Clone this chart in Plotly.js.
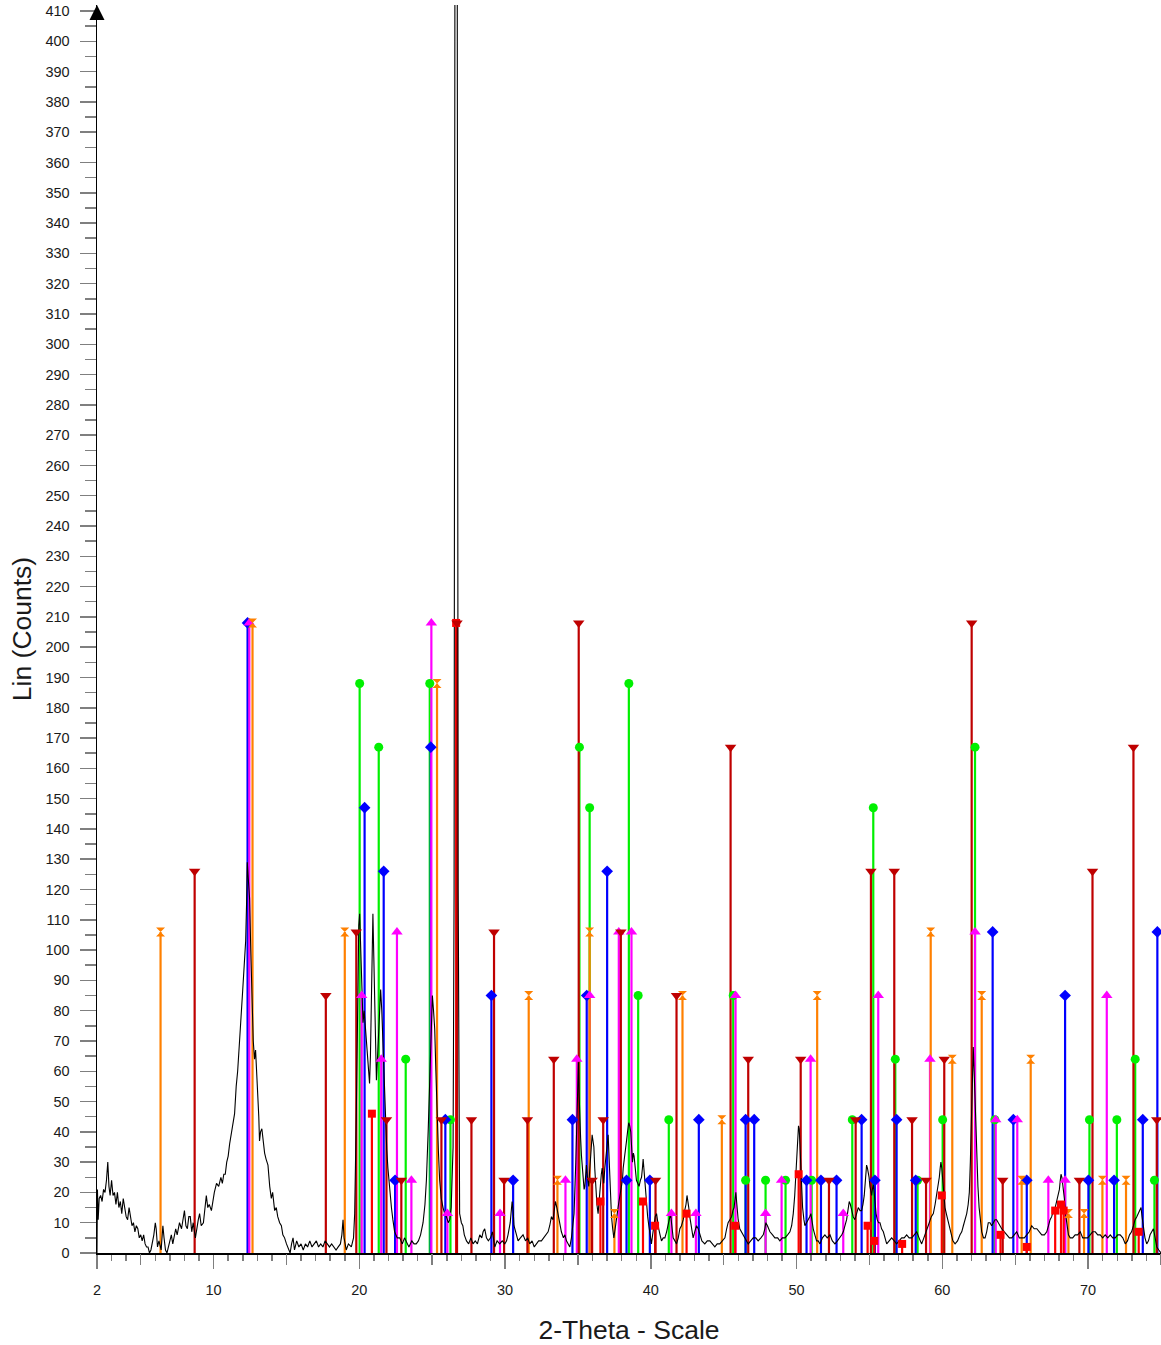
<!DOCTYPE html>
<html>
<head>
<meta charset="utf-8">
<script src="https://cdn.plot.ly/plotly-3.0.1.min.js"></script>
<style>html,body{margin:0;padding:0;background:#fff;}#chart{width:1161px;height:1345px;}</style>
</head>
<body>
<div id="chart"></div>
<script>
// ---------- measured diffraction pattern (2-theta, counts) ----------
const patternX = [2.00,2.03,2.08,2.15,2.25,2.35,2.45,2.55,2.65,2.74,2.82,2.90,3.00,3.10,3.20,3.30,3.40,3.50,3.60,3.70,3.80,3.90,4.00,4.10,4.20,4.30,4.40,4.50,4.60,4.70,4.80,4.90,5.00,5.10,5.20,5.30,5.40,5.50,5.60,5.70,5.80,5.90,6.00,6.06,6.15,6.25,6.40,6.52,6.60,6.70,6.80,6.90,7.00,7.10,7.20,7.30,7.40,7.50,7.66,7.80,7.90,8.00,8.10,8.20,8.30,8.40,8.50,8.60,8.75,8.85,8.95,9.04,9.15,9.30,9.40,9.50,9.60,9.70,9.85,9.95,10.05,10.20,10.35,10.50,10.60,10.70,10.80,10.90,11.00,11.10,11.20,11.30,11.44,11.55,11.65,11.78,11.90,12.00,12.10,12.20,12.26,12.31,12.36,12.42,12.47,12.55,12.65,12.72,12.81,12.88,12.95,13.04,13.10,13.15,13.22,13.31,13.40,13.50,13.60,13.73,13.85,13.96,14.05,14.19,14.30,14.40,14.53,14.65,14.75,14.87,15.00,15.10,15.25,15.35,15.45,15.55,15.70,15.85,16.00,16.15,16.30,16.45,16.60,16.75,16.90,17.05,17.20,17.35,17.50,17.65,17.80,17.95,18.10,18.25,18.40,18.55,18.70,18.80,18.88,18.95,19.10,19.25,19.45,19.60,19.68,19.79,19.90,19.96,20.02,20.08,20.14,20.25,20.33,20.41,20.50,20.59,20.70,20.76,20.82,20.88,20.93,20.99,21.05,21.12,21.17,21.25,21.33,21.40,21.46,21.54,21.62,21.70,21.80,21.88,21.96,22.08,22.20,22.30,22.42,22.60,22.77,22.95,23.10,23.20,23.40,23.60,23.75,23.90,24.05,24.20,24.37,24.50,24.60,24.72,24.83,24.92,25.01,25.09,25.17,25.25,25.33,25.42,25.51,25.62,25.74,25.85,25.97,26.10,26.20,26.30,26.43,26.50,26.57,26.62,26.66,26.72,26.78,26.88,27.00,27.10,27.20,27.35,27.50,27.65,27.80,27.95,28.10,28.26,28.40,28.49,28.60,28.72,28.85,29.00,29.13,29.29,29.45,29.63,29.80,29.98,30.10,30.20,30.35,30.48,30.55,30.61,30.75,30.89,31.05,31.23,31.40,31.55,31.69,31.85,32.00,32.15,32.30,32.49,32.65,32.84,32.95,33.06,33.18,33.29,33.37,33.45,33.55,33.63,33.75,33.86,34.00,34.10,34.21,34.33,34.44,34.55,34.62,34.73,34.85,34.96,35.03,35.08,35.12,35.18,35.24,35.30,35.35,35.42,35.47,35.52,35.58,35.65,35.74,35.80,35.86,35.92,35.97,36.03,36.09,36.15,36.22,36.30,36.38,36.46,36.54,36.60,36.66,36.72,36.77,36.84,36.91,36.98,37.07,37.12,37.18,37.24,37.30,37.38,37.46,37.52,37.59,37.67,37.75,37.81,37.87,37.96,38.05,38.10,38.16,38.25,38.33,38.40,38.48,38.55,38.62,38.68,38.74,38.80,38.85,38.93,39.01,39.10,39.19,39.28,39.36,39.42,39.47,39.52,39.58,39.64,39.70,39.78,39.86,39.95,40.04,40.12,40.20,40.30,40.39,40.46,40.54,40.63,40.73,40.85,40.96,41.08,41.18,41.27,41.35,41.44,41.53,41.65,41.76,41.88,41.99,42.10,42.22,42.32,42.41,42.48,42.52,42.60,42.67,42.78,42.90,43.01,43.13,43.25,43.36,43.50,43.70,43.87,44.05,44.20,44.39,44.55,44.73,44.90,45.08,45.20,45.30,45.42,45.54,45.63,45.71,45.78,45.83,45.90,45.99,46.10,46.22,46.35,46.45,46.57,46.68,46.85,47.02,47.20,47.36,47.55,47.71,47.82,47.89,48.00,48.17,48.35,48.51,48.70,48.85,49.02,49.20,49.38,49.54,49.66,49.77,49.87,49.95,50.02,50.07,50.13,50.18,50.24,50.30,50.36,50.41,50.50,50.57,50.68,50.80,50.90,50.98,51.06,51.14,51.25,51.37,51.48,51.60,51.77,51.94,52.10,52.29,52.45,52.63,52.80,52.97,53.10,53.20,53.32,53.43,53.52,53.61,53.69,53.77,53.88,54.00,54.12,54.23,54.35,54.46,54.55,54.64,54.72,54.80,54.86,54.91,54.97,55.03,55.09,55.15,55.20,55.26,55.32,55.37,55.45,55.53,55.62,55.72,55.83,55.95,56.06,56.18,56.35,56.52,56.70,56.86,57.03,57.21,57.38,57.55,57.72,57.90,58.07,58.24,58.40,58.58,58.73,58.88,59.00,59.10,59.24,59.38,59.50,59.61,59.70,59.79,59.85,59.90,59.96,60.02,60.10,60.18,60.27,60.37,60.47,60.57,60.72,60.87,61.04,61.21,61.33,61.44,61.56,61.67,61.77,61.85,61.92,61.97,62.01,62.06,62.12,62.18,62.24,62.30,62.36,62.44,62.52,62.61,62.70,62.82,62.93,63.04,63.15,63.27,63.38,63.50,63.61,63.72,63.84,63.95,64.07,64.25,64.42,64.60,64.76,64.93,65.10,65.28,65.45,65.62,65.79,65.96,66.13,66.30,66.48,66.65,66.82,67.00,67.16,67.28,67.39,67.50,67.62,67.74,67.85,67.94,68.03,68.09,68.14,68.20,68.26,68.32,68.37,68.45,68.54,68.65,68.77,68.94,69.11,69.28,69.46,69.63,69.80,69.97,70.14,70.31,70.49,70.66,70.83,71.00,71.17,71.35,71.52,71.69,71.86,72.03,72.20,72.38,72.55,72.70,72.84,72.98,73.11,73.22,73.34,73.43,73.52,73.58,73.63,73.70,73.79,73.90,74.02,74.14,74.25,74.37,74.48,74.60,74.71,74.85,75.00];
const patternY = [0,21,11,18,19,17,21,20,24,30,22,19,24,19,20,16,20,15,17,13,18,14,12,11,15,12,9,10,7,9,8,5,6,4,6,3,2,2,0,1,3,6,10,8,2,4,1,9,5,1,0,2,4,6,3,6,8,6,10,8,11,14,9,8,12,12,7,10,5,9,11,13,9,10,14,19,15,16,14,18,20,23,22,25,23,26,26,30,32,36,39,42,46,55,60,70,78,87,95,103,115,129,125,121,117,100,81,70,64,67,60,53,45,37,40,41,36,33,31,29,22,18,20,14,15,12,10,9,6,5,3,2,0,3,5,1,4,2,3,1,3,2,4,2,3,4,2,3,2,4,3,2,3,2,1,2,3,6,11,5,1,3,2,5,13,46,90,108,112,100,92,76,80,75,68,62,56,65,79,100,112,98,79,64,57,65,74,82,87,80,68,55,41,34,28,20,15,11,7,5,5,3,5,4,2,4,3,3,4,6,10,16,24,40,57,72,85,80,74,60,46,34,24,18,15,13,12,10,11,15,35,120,500,1000,1000,400,120,13,10,9,6,4,3,5,3,4,3,6,5,7,8,5,4,5,7,2,4,3,4,3,4,6,10,17,14,9,6,4,5,6,4,5,3,4,2,3,4,4,5,6,7,9,12,11,14,17,15,13,9,7,5,6,4,3,2,5,8,13,30,46,63,52,44,38,32,27,23,21,22,26,29,25,22,27,31,35,39,37,35,28,21,16,13,18,24,26,28,25,23,28,32,36,39,33,26,18,12,8,5,7,9,12,15,17,19,22,24,28,31,34,37,40,43,42,40,35,30,33,32,28,24,23,22,24,25,28,31,28,24,19,15,12,9,6,3,6,9,12,13,10,8,6,4,5,5,7,9,11,13,9,5,4,3,5,8,9,11,14,16,19,18,15,12,8,5,7,9,8,6,4,3,4,4,3,2,3,3,4,5,8,10,11,12,14,15,18,20,16,11,8,7,6,5,4,3,4,5,5,4,5,6,8,10,9,7,6,5,5,4,5,5,6,7,9,13,19,26,34,40,42,41,34,27,20,15,11,9,10,11,12,13,10,8,6,4,4,3,5,6,5,6,4,3,4,5,6,7,9,11,14,17,16,14,12,11,13,15,14,14,16,19,24,29,28,27,25,22,20,19,21,23,20,17,13,11,10,10,8,7,5,3,4,5,4,3,4,5,5,6,5,5,6,7,5,3,5,7,8,10,12,13,16,19,22,25,28,30,28,24,19,15,13,11,8,6,4,3,4,6,7,9,11,13,16,20,30,40,46,58,68,60,51,40,30,22,15,10,7,5,5,7,10,10,9,10,11,11,10,9,8,7,6,5,5,6,7,5,5,5,6,7,9,8,8,7,6,6,7,9,11,12,14,15,17,19,21,24,26,25,23,20,18,13,9,6,5,5,6,6,7,5,5,5,6,7,7,6,6,5,6,5,6,5,5,6,6,5,3,4,6,7,9,11,12,13,14,15,15,12,9,5,3,4,6,7,8,5,2,1,0];

// ---------- reference phase sticks (2-theta, scaled intensity) ----------
const bluePos    = [12.33,20.36,21.67,22.45,24.90,25.90,29.06,30.55,34.62,35.60,37.00,38.33,39.93,43.29,46.50,47.09,50.68,51.67,52.74,54.46,55.37,56.86,58.17,63.45,64.87,65.79,68.42,70.02,71.78,73.75,74.75];
const blueInt    = [208,147,126,24,167,44,85,24,44,85,126,24,24,44,44,44,24,24,24,44,24,44,24,106,44,24,85,24,24,44,106];
const magentaPos = [12.45,20.16,21.50,22.58,23.57,24.94,26.04,29.65,34.14,34.92,35.80,37.80,38.67,41.41,43.09,45.81,47.87,48.97,50.96,53.20,55.60,59.15,62.24,63.66,65.14,67.27,68.42,71.28];
const magentaInt = [208,85,64,106,24,208,13,13,24,64,85,106,106,13,13,85,13,24,64,13,85,64,106,44,44,24,24,85];
const greenPos   = [12.40,20.02,21.33,23.18,24.83,26.25,35.10,35.80,38.49,39.13,41.23,45.65,46.50,47.87,49.24,51.03,53.82,55.26,56.77,58.30,60.02,62.24,63.60,70.09,71.97,73.23,74.55];
const greenInt   = [208,188,167,64,188,44,167,147,188,85,44,85,24,24,24,24,44,147,64,24,44,167,44,44,44,64,24];
const orangePos  = [6.36,12.67,19.00,25.33,31.62,33.59,35.80,37.50,42.17,44.87,51.41,59.20,60.68,62.70,65.44,66.06,68.65,69.72,70.98,72.60];
const orangeInt  = [106,208,106,188,85,24,106,13,85,44,85,106,64,85,24,64,13,13,24,24];
const darkredPos = [8.70,17.70,19.79,21.86,22.88,25.63,26.70,27.69,29.24,29.93,31.53,33.34,35.05,35.97,36.73,37.94,40.32,41.76,45.47,46.68,50.28,52.22,54.05,55.10,56.70,57.92,58.88,60.13,62.01,64.14,69.40,70.30,73.11,74.71];
const darkredInt = [126,85,106,44,24,44,208,44,106,24,44,64,208,24,44,106,24,85,167,64,64,24,44,126,126,44,24,64,208,24,24,126,167,44];
const redPos     = [20.86,26.64,36.54,39.46,40.29,42.45,45.79,50.14,54.87,55.33,57.24,59.96,63.99,65.79,67.74,68.14,68.32,73.47];
const redInt     = [46,208,17,17,9,13,9,26,9,4,3,19,6,2,14,16,14,7];

// ---------- axis ticks ----------
const xTickVals  = [2,10,20,30,40,50,60,70];
const xTickText  = ['2','10','20','30','40','50','60','70'];
const xMidTicks  = [5,15,25,35,45,55,65,75];

const phases = [
  {pos: greenPos,   val: greenInt,   color: '#00F000', symbol: 'circle',        size: 9},
  {pos: bluePos,    val: blueInt,    color: '#0000FF', symbol: 'diamond',       size: 9},
  {pos: magentaPos, val: magentaInt, color: '#FF00FF', symbol: 'triangle-up',   size: 10},
  {pos: orangePos,  val: orangeInt,  color: '#FF8000', symbol: 'hourglass',     size: 9},
  {pos: redPos,     val: redInt,     color: '#FF0000', symbol: 'square',        size: 8},
  {pos: darkredPos, val: darkredInt, color: '#BF0000', symbol: 'triangle-down', size: 10}
];

const traces = [];
phases.forEach(p => {
  const xs = [], ys = [];
  p.pos.forEach((v, i) => { xs.push(v, v, null); ys.push(0, p.val[i], null); });
  traces.push({type: 'scatter', mode: 'lines', x: xs, y: ys, line: {color: p.color, width: 2.2}, hoverinfo: 'skip', showlegend: false});
});
traces.push({type: 'scatter', mode: 'lines', x: patternX, y: patternY, line: {color: '#000000', width: 1.1}, showlegend: false});
phases.forEach((p, k) => {
  traces.push({type: 'scatter', mode: 'markers', x: p.pos, y: p.val, xaxis: k === phases.length - 1 ? 'x2' : 'x',
    marker: {symbol: p.symbol, color: p.color, size: p.size, line: {width: 0}}, cliponaxis: false, showlegend: false});
});

const tickFont = {family: 'Liberation Sans, Arial, sans-serif', size: 14.5, color: '#1a1a1a'};
const titleFont = {family: 'Liberation Sans, Arial, sans-serif', size: 26.5, color: '#1a1a1a'};
const layout = {
  width: 1161, height: 1345,
  margin: {l: 97, r: 0, t: 5, b: 92},
  paper_bgcolor: '#fff', plot_bgcolor: '#fff',
  showlegend: false,
  xaxis: {
    range: [2, 75], tickmode: 'array', tickvals: xTickVals, ticktext: xTickText,
    ticks: 'outside', ticklen: 14, tickwidth: 1.5, tickcolor: '#7f7f7f',
    minor: {ticks: 'outside', tick0: 0, dtick: 1, ticklen: 6, tickwidth: 1.5, tickcolor: '#7f7f7f'},
    showline: true, linecolor: '#000', linewidth: 1.5, showgrid: false, zeroline: false,
    tickfont: tickFont, ticklabelstandoff: 9,
    title: {text: '2-Theta - Scale', font: titleFont, standoff: 24}
  },
  xaxis2: {
    range: [2, 75], overlaying: 'x', side: 'bottom', tickmode: 'array', tickvals: xMidTicks,
    ticks: 'outside', ticklen: 11, tickwidth: 1.5, tickcolor: '#7f7f7f',
    showticklabels: false, showline: false, showgrid: false, zeroline: false
  },
  yaxis: {
    range: [0, 412], tick0: 0, dtick: 10,
    ticks: 'outside', ticklen: 16, tickwidth: 1.5, tickcolor: '#7f7f7f',
    minor: {ticks: 'outside', tick0: 0, dtick: 5, ticklen: 11, tickwidth: 1.5, tickcolor: '#7f7f7f'},
    showline: true, linecolor: '#000', linewidth: 1.5, showgrid: false, zeroline: false,
    tickfont: tickFont, ticklabelstandoff: 7,
    title: {text: 'Lin (Counts)', font: titleFont, standoff: 6}
  },
  annotations: [{x: 2, y: 412, xref: 'x', yref: 'y', text: '', showarrow: true, arrowhead: 2, arrowsize: 2, arrowwidth: 1.5, arrowcolor: '#000', ax: 0, ay: 16}]
};

Plotly.newPlot('chart', traces, layout, {displayModeBar: false, staticPlot: true});
</script>
</body>
</html>
